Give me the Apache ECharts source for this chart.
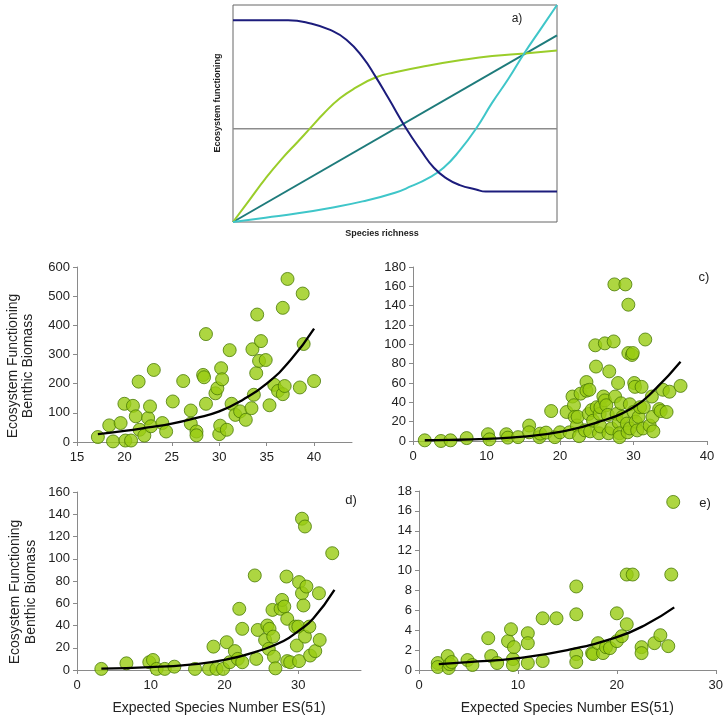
<!DOCTYPE html>
<html><head><meta charset="utf-8">
<script src="https://cdn.jsdelivr.net/npm/echarts@6/dist/echarts.min.js"></script>
<style>html,body{margin:0;padding:0;background:#fff}#c{width:726px;height:719px}</style>
</head><body><div id="c"></div>
<script>
// Panel a (conceptual curves), x = fraction of species richness, y = fraction of functioning
const aNavy = [[0,0.93],[0.17,0.93],[0.24,0.915],[0.30,0.885],[0.35,0.84],[0.40,0.76],[0.44,0.67],[0.48,0.57],[0.535,0.43],[0.58,0.33],[0.62,0.25],[0.66,0.20],[0.70,0.17],[0.75,0.15],[0.78,0.14],[0.9,0.14],[1.0,0.14]];
const aGreen = [[0,0],[0.05,0.1],[0.1,0.2],[0.15,0.29],[0.2,0.37],[0.237,0.43],[0.28,0.5],[0.33,0.57],[0.38,0.62],[0.44,0.666],[0.5,0.69],[0.6,0.72],[0.7,0.745],[0.8,0.765],[0.9,0.777],[1.0,0.79]];
const aTeal = [[0,0],[1,0.86]];
const aCyan = [[0,0],[0.1,0.02],[0.2,0.04],[0.3,0.065],[0.4,0.095],[0.5,0.135],[0.55,0.165],[0.6,0.2],[0.65,0.25],[0.7,0.33],[0.75,0.43],[0.8,0.55],[0.85,0.66],[0.9,0.78],[0.95,0.89],[1.0,1.0]];
const aGray = [[0,0.43],[1,0.43]];

// Panel b
const bPoints = [[17.2,17],[18.4,57],[18.8,2],[19.6,65],[20.0,131],[20.1,5],[20.7,5],[20.9,124],[21.2,88],[21.5,207],[21.6,42],[22.1,22],[22.5,82],[22.7,122],[22.8,54],[23.1,247],[24.0,65],[24.4,36],[25.1,139],[26.2,209],[27.0,108],[27.0,63],[27.6,36],[27.6,23],[28.3,230],[28.4,222],[28.6,370],[28.6,131],[29.6,167],[29.8,184],[30.0,27],[30.1,56],[30.2,253],[30.3,215],[30.8,42],[31.1,315],[31.3,131],[31.7,93],[32.2,105],[32.8,76],[33.4,116],[33.5,318],[33.65,162],[33.9,236],[34.0,437],[34.2,278],[34.4,346],[34.9,281],[35.3,126],[35.8,196],[36.2,175],[36.7,164],[36.7,460],[36.9,192],[37.2,559],[38.5,187],[38.8,509],[38.9,336],[40.0,209]];
const bTrend = [[17.2,27],[20,38],[22.5,50],[25,63],[27.5,82],[30,105],[32.5,145],[35,200],[37.5,280],[40,389]];

// Panel c
const cPoints = [[1.6,0.7],[3.8,0],[5.1,0.7],[7.3,3],[10.2,7],[10.4,1.7],[12.7,7],[12.9,3.5],[14.3,4],[15.8,16],[15.8,9],[17.2,4],[17.3,7.6],[18.1,8.7],[18.8,31],[19.3,4],[20,9],[20.9,30],[21.3,9],[21.7,46],[21.9,37],[22.0,25],[22.3,16],[22.4,25],[22.6,5],[22.8,49],[23.4,11],[23.6,61],[23.6,52],[24.0,53],[23.9,28],[24.1,10],[24.3,32],[24.5,21],[24.8,99],[24.9,77],[25.0,35],[25.3,8],[25.4,28],[25.5,15],[25.5,35],[25.9,46],[26.1,101],[26.1,42],[26.3,37],[26.5,27],[26.6,8],[26.7,72],[27.0,13],[27.3,103],[27.4,162],[27.5,46],[27.7,28],[27.9,60],[28.0,19],[28.1,8],[28.1,4],[28.3,39],[28.5,25],[28.9,162],[29.1,18],[29.2,9],[29.3,141],[29.3,91],[29.5,38],[29.5,13],[29.8,89],[29.9,91],[30.0,30],[30.1,60],[30.2,56],[30.3,20],[30.5,11],[30.7,25],[30.9,35],[31.1,56],[31.3,13],[31.4,35],[31.6,105],[32.2,16],[32.5,46],[32.6,25],[32.7,10],[33.5,33],[33.7,31],[34.0,53],[34.5,30],[34.9,51],[36.4,57]];
const cTrend = [[1.6,0.8],[5,1.1],[10,2.3],[15,4.5],[20,9.5],[25,19],[30,35],[33,54],[36.4,82]];

// Panel d
const dPoints = [[3.3,1],[6.7,6],[9.8,7],[10.3,9],[10.8,1],[11.9,1],[13.2,3],[16.0,1],[17.9,1],[18.5,21],[18.9,1],[19.8,1],[20.3,25],[20.7,7],[21.4,17],[21.8,10],[22.0,55],[22.4,37],[22.4,7],[24.1,85],[24.3,10],[24.5,36],[25.5,27],[25.8,40],[26.0,19],[26.1,37],[26.5,54],[26.6,30],[26.7,12],[26.9,1.5],[27.6,55],[27.8,63],[28.1,57],[28.4,84],[28.5,46],[28.5,8],[28.9,7],[29.6,39],[29.8,22],[30.1,79],[30.0,39],[30.1,8],[30.5,136],[30.5,69],[30.7,58],[30.9,30],[30.9,129],[31.1,75],[31.5,39],[31.6,13],[32.3,17],[32.8,69],[32.9,27],[34.6,105]];
const dTrend = [[3.3,1.2],[10,2.6],[15,4.7],[20,9],[25,18],[28,26],[30,35],[32,46],[34.9,72]];

// Panel e
const ePoints = [[1.9,0.7],[1.9,0.3],[2.9,1.4],[3.0,0.2],[3.1,0.6],[3.3,0.8],[4.9,1.0],[5.4,0.5],[7.0,3.2],[7.3,1.4],[7.9,0.7],[9.0,2.9],[9.3,4.1],[9.5,1.1],[9.5,0.5],[9.6,2.3],[11.0,3.7],[11.0,2.7],[11.0,0.7],[12.5,5.2],[12.5,0.9],[13.9,5.2],[15.9,8.4],[15.9,5.6],[15.9,1.6],[15.9,0.8],[17.5,1.7],[17.6,1.6],[18.1,2.7],[18.6,1.7],[18.9,2.3],[19.3,2.2],[20.0,2.9],[20.0,5.7],[20.5,3.4],[21.0,4.6],[21.0,9.6],[21.6,9.6],[22.5,2.3],[22.5,1.7],[23.8,2.7],[24.4,3.5],[25.2,2.4],[25.5,9.6],[25.7,16.9]];
const eTrend = [[2,0.6],[5,0.8],[10,1.2],[15,2.0],[20,3.3],[23,4.6],[25.8,6.3]];

const xTitle = 'Expected Species Number ES(51)';
const yTitle1 = 'Ecosystem Functioning';
const yTitle2 = 'Benthic Biomass';

const chart = echarts.init(document.getElementById('c'), null, {renderer:'canvas'});
const FONT = 'Liberation Sans, Arial, sans-serif';
const txt = '#222';
function valX(gi, min, max, interval, name){
  return {gridIndex:gi, type:'value', min:min, max:max, interval:interval,
    axisLine:{show:true, onZero:false, lineStyle:{color:'#8a8a8a', width:1}},
    axisTick:{show:true, inside:false, length:4, lineStyle:{color:'#8a8a8a'}},
    axisLabel:{color:txt, fontFamily:FONT, fontSize:13, margin:9, showMaxLabel:(max % interval === 0),
      formatter:function(v){ return (Math.abs(v/interval - Math.round(v/interval))<1e-6) ? String(v) : ''; }},
    splitLine:{show:false},
    name:name||'', nameLocation:'middle', nameGap:31,
    nameTextStyle:{color:txt, fontFamily:FONT, fontSize:14}};
}
function valY(gi, min, max, interval){
  return {gridIndex:gi, type:'value', min:min, max:max, interval:interval,
    axisLine:{show:true, onZero:false, lineStyle:{color:'#8a8a8a', width:1}},
    axisTick:{show:true, inside:false, length:4, lineStyle:{color:'#8a8a8a'}},
    axisLabel:{color:txt, fontFamily:FONT, fontSize:13, margin:7},
    splitLine:{show:false}};
}
const scatterStyle = {color:'#99cc11', borderColor:'#4a7a05', borderWidth:1};
function sc(i, data){ return {type:'scatter', xAxisIndex:i, yAxisIndex:i, data:data, symbolSize:13, itemStyle:scatterStyle, z:2}; }
function tr(i, data){ return {type:'line', xAxisIndex:i, yAxisIndex:i, data:data, smooth:true, showSymbol:false, symbol:'none', lineStyle:{color:'#000', width:2.3}, z:5}; }
function cl(data, color, w){ return {type:'line', xAxisIndex:0, yAxisIndex:0, data:data, smooth:true, showSymbol:false, symbol:'none', lineStyle:{color:color, width:w||2}, z:3}; }

function gtext(x, y, t, size, rot, weight){
  return {type:'text', x:x, y:y, rotation:rot||0, z:100,
    style:{text:t, fill:txt, font:(weight||'normal')+' '+size+'px '+FONT, textAlign:'center', textVerticalAlign:'middle'}};
}

const option = {
  animation:false,
  backgroundColor:'#fff',
  grid:[
    {left:233, top:5, width:324, height:217, show:true, borderColor:'#666', borderWidth:1, backgroundColor:'transparent'},
    {left:77, top:267, width:275, height:175},
    {left:413, top:267, width:294, height:174},
    {left:77, top:492, width:284, height:178},
    {left:419, top:491, width:298, height:179}
  ],
  xAxis:[
    {gridIndex:0, type:'value', min:0, max:1, axisLine:{show:false}, axisTick:{show:false}, axisLabel:{show:false}, splitLine:{show:false}},
    valX(1, 15, 44, 5),
    valX(2, 0, 40, 10),
    valX(3, 0, 38.5, 10, xTitle),
    valX(4, 0, 30, 10, xTitle)
  ],
  yAxis:[
    {gridIndex:0, type:'value', min:0, max:1, axisLine:{show:false}, axisTick:{show:false}, axisLabel:{show:false}, splitLine:{show:false}},
    valY(1, 0, 600, 100),
    valY(2, 0, 180, 20),
    valY(3, 0, 160, 20),
    valY(4, 0, 18, 2)
  ],
  series:[
    cl(aGray, '#8c8c8c', 1.5),
    cl(aTeal, '#1e7b7b', 2),
    cl(aGreen, '#9acd2a', 2),
    cl(aCyan, '#3fc6c9', 2),
    cl(aNavy, '#1c1c7c', 2),
    sc(1, bPoints), tr(1, bTrend),
    sc(2, cPoints), tr(2, cTrend),
    sc(3, dPoints), tr(3, dTrend),
    sc(4, ePoints), tr(4, eTrend)
  ],
  graphic:[
    gtext(517, 19, 'a)', 12),
    gtext(382, 234, 'Species richness', 9, 0, 'bold'),
    gtext(218, 103, 'Ecosystem functioning', 9, Math.PI/2, 'bold'),
    gtext(704, 277, 'c)', 13),
    gtext(351, 500, 'd)', 13),
    gtext(705, 503, 'e)', 13),
    gtext(13, 366, yTitle1, 14, Math.PI/2),
    gtext(28, 366, yTitle2, 14, Math.PI/2),
    gtext(15, 592, yTitle1, 14, Math.PI/2),
    gtext(31, 592, yTitle2, 14, Math.PI/2)
  ]
};
chart.setOption(option);
</script>
</body></html>
